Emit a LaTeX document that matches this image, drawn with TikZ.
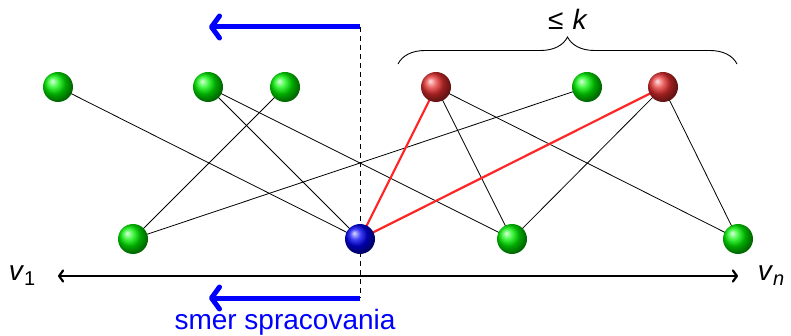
\documentclass[tikz,border=0pt]{standalone}
\usepackage{fontspec}
\setmainfont{Liberation Sans}
\usetikzlibrary{decorations.pathreplacing,arrows.meta}
\begin{document}
\begin{tikzpicture}[x=1pt,y=-1pt,
  ball/.style={circle,inner sep=0pt,minimum size=30pt,shading=ball},
  gball/.style={ball,ball color=green!95!black},
  rball/.style={ball,ball color=red!80!white!90!black},
  bball/.style={ball,ball color=blue!95!black},
  edge/.style={line width=0.8pt,black},
  redge/.style={line width=2.2pt,red!85!white},
  bluearrow/.style={line width=5pt,blue,-{Straight Barb[length=8pt,width=22pt,round]}},
  axarrow/.style={line width=2.2pt,{Straight Barb[length=4pt,width=11pt,round]}-{Straight Barb[length=4pt,width=11pt,round]}},
  lbl/.style={font=\fontsize{28}{30}\selectfont,inner sep=0pt}]
\useasboundingbox (0,0) rectangle (791,336);
% node positions
\coordinate (t1) at (58,87);
\coordinate (t2) at (208,87);
\coordinate (t3) at (285,87);
\coordinate (t4) at (436,87);
\coordinate (t5) at (587,87);
\coordinate (t6) at (663,87);
\coordinate (b1) at (133,239);
\coordinate (b2) at (360,239);
\coordinate (b3) at (512,239);
\coordinate (b4) at (738,239);
% edges
\draw[edge] (t1) -- (b2);
\draw[edge] (t2) -- (b2);
\draw[edge] (t2) -- (b3);
\draw[edge] (t3) -- (b1);
\draw[edge] (t4) -- (b3);
\draw[edge] (t4) -- (b4);
\draw[edge] (t5) -- (b1);
\draw[edge] (t6) -- (b3);
\draw[edge] (t6) -- (b4);
\draw[redge] (t4) -- (b2);
\draw[redge] (t6) -- (b2);
% dashed line and blue arrows
\coordinate (dtop) at (360,27);
\coordinate (dbot) at (360,298);
\coordinate (atop) at (209,27);
\coordinate (abot) at (209,298);
\draw[line width=0.8pt,dash pattern=on 5pt off 4pt] (dtop) -- (dbot);
% balls
\node[gball] (n1) at (t1) {};
\node[gball] (n2) at (t2) {};
\node[gball] (n3) at (t3) {};
\node[rball] (n4) at (t4) {};
\node[gball] (n5) at (t5) {};
\node[rball] (n6) at (t6) {};
\node[gball] (m1) at (b1) {};
\node[bball] (m2) at (b2) {};
\node[gball] (m3) at (b3) {};
\node[gball] (m4) at (b4) {};
\draw[bluearrow] (dtop) -- (atop);
\draw[bluearrow] (dbot) -- (abot);
\node[lbl,text=blue] (smer) at (285,322) {smer spracovania};
% order axis
\coordinate (al) at (58,276);
\coordinate (ar) at (738,276);
\draw[axarrow] (al) -- (ar);
\node[lbl] (v1) at (22,276) {\textit{v}\raisebox{-0.35ex}{\fontsize{20}{22}\selectfont 1}};
\node[lbl] (vn) at (771,276) {\textit{v}\raisebox{-0.35ex}{\fontsize{20}{22}\selectfont\textit{n}}};
% brace
\coordinate (bl) at (398,64);
\coordinate (br) at (737,64);
\draw[line width=0.9pt,decorate,decoration={brace,amplitude=27pt}] (bl) -- (br);
\node[lbl] (k) at (568,19) {≤\hspace{9pt}\textit{k}};
\end{tikzpicture}
\end{document}
